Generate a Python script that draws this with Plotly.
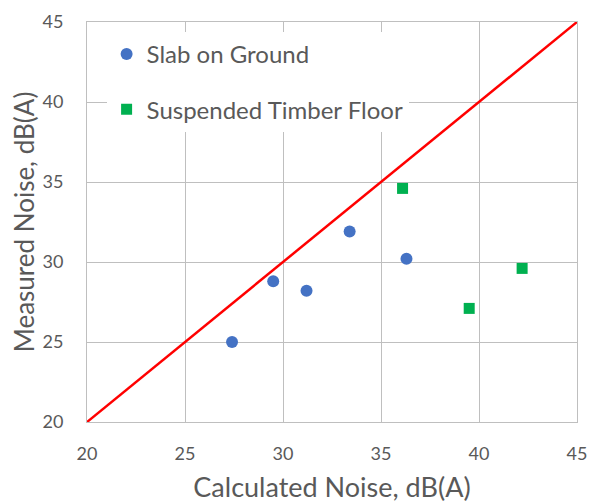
import plotly.graph_objects as go

slab_x = [27.4, 29.5, 31.2, 33.4, 36.3]
slab_y = [25.0, 28.8, 28.2, 31.9, 30.2]
timber_x = [36.1, 39.5, 42.2]
timber_y = [34.6, 27.1, 29.6]
line_x = [20, 45]
line_y = [20, 45]
ticks = [20, 25, 30, 35, 40, 45]

FONT = "Lato"
GREY = "#595959"
GRID = "#BFBFBF"

fig = go.Figure()
fig.add_trace(go.Scatter(x=line_x, y=line_y, mode="lines",
                         line=dict(color="#FF0000", width=2.5),
                         showlegend=False, hoverinfo="skip"))
fig.add_trace(go.Scatter(x=slab_x, y=slab_y, mode="markers", name="Slab on Ground",
                         legendgroup="a",
                         marker=dict(symbol="circle", size=12, color="#4472C4")))
fig.add_trace(go.Scatter(x=timber_x, y=timber_y, mode="markers", name="Suspended Timber Floor",
                         legendgroup="b",
                         marker=dict(symbol="square", size=11, color="#00B050")))

axis_common = dict(range=[20, 45], tickvals=ticks, showgrid=True, gridcolor=GRID, gridwidth=1,
                   showline=True, linecolor=GRID, linewidth=1, mirror=True, zeroline=False,
                   tickfont=dict(family=FONT, size=18, color=GREY), ticks="", automargin=False)
fig.update_xaxes(**axis_common, ticklabelstandoff=15,
                 title=dict(text="Calculated Noise, dB(A)", font=dict(family=FONT, size=27, color=GREY), standoff=22))
fig.update_yaxes(**axis_common, ticklabelstandoff=19,
                 title=dict(text="Measured Noise, dB(A)", font=dict(family=FONT, size=26, color=GREY), standoff=10))

# page has an 8px body margin; compensate so the plot lands where the reference has it
fig.update_layout(
    width=587, height=495,
    margin=dict(l=79, r=18, t=14, b=81),
    paper_bgcolor="white", plot_bgcolor="white",
    font=dict(family=FONT, color=GREY),
    legend=dict(x=0.04, y=0.975, xanchor="left", yanchor="top", bgcolor="white",
                font=dict(family=FONT, size=24, color=GREY),
                traceorder="grouped", tracegroupgap=21, itemwidth=30,
                borderwidth=0),
    showlegend=True,
)
fig.write_html("out.html")
